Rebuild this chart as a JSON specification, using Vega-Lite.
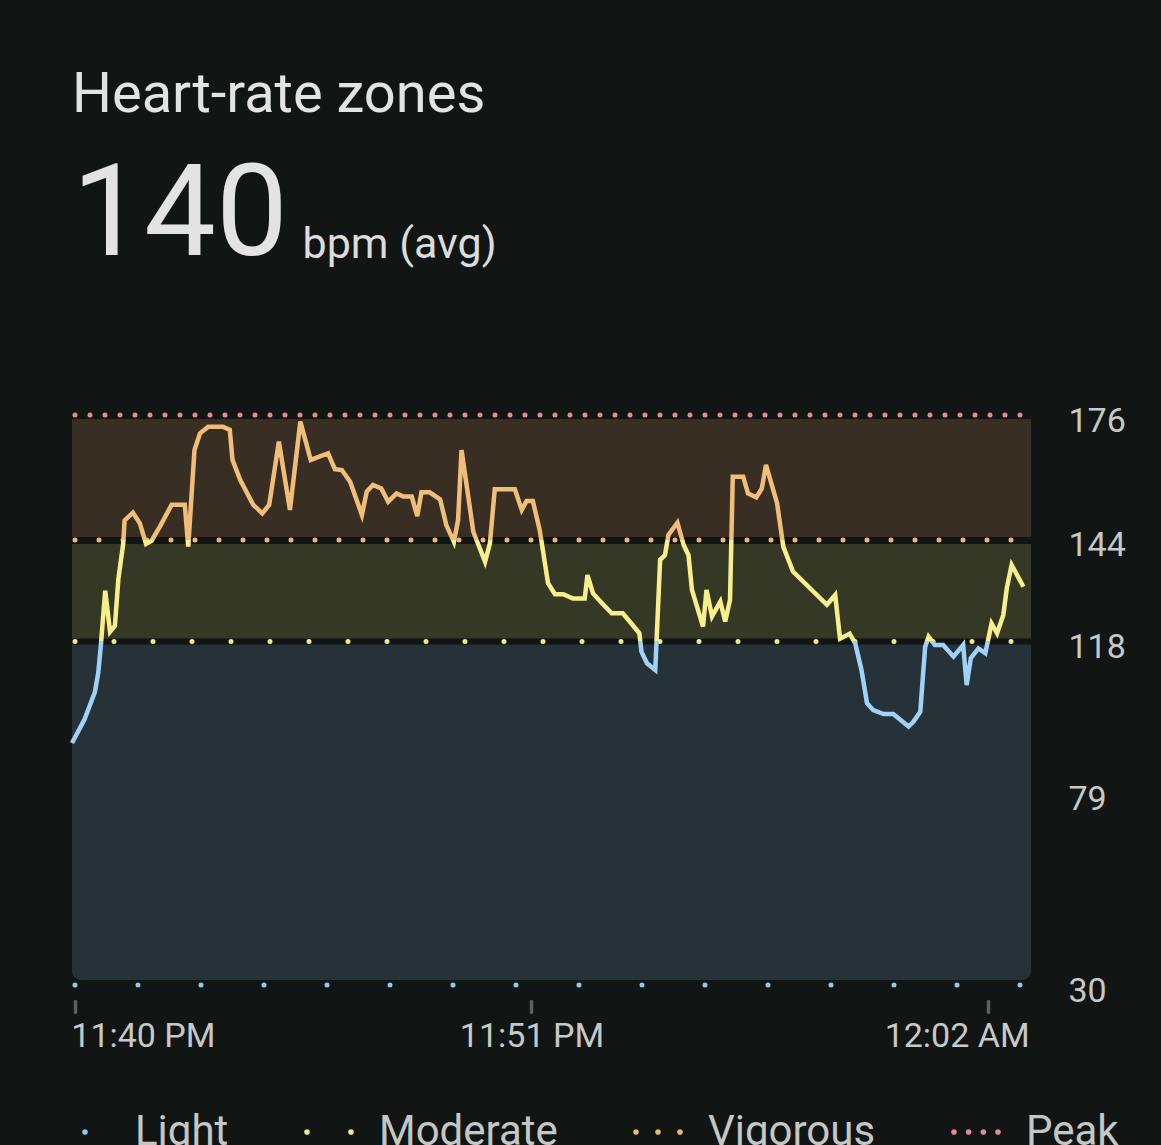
{
  "$schema": "https://vega.github.io/schema/vega-lite/v6.json",
  "width": 959,
  "height": 570,
  "autosize": {"type": "none"},
  "padding": {"left": 72, "top": 415, "right": 130, "bottom": 160},
  "background": "#111514",
  "title": {
    "text": "Heart-rate zones",
    "subtitle": "140",
    "anchor": "start",
    "frame": "group",
    "font": "Roboto",
    "fontSize": 56,
    "fontWeight": "normal",
    "color": "#e3e3e3",
    "subtitleFont": "Roboto",
    "subtitleFontSize": 128,
    "subtitleColor": "#e3e3e3",
    "subtitlePadding": 30,
    "offset": -59
  },
  "datasets": {
    "zones": [
      {"zone": "Light", "bpm": 30, "hi": 118},
      {"zone": "Moderate", "bpm": 118, "hi": 144},
      {"zone": "Vigorous", "bpm": 144, "hi": 176},
      {"zone": "Peak", "bpm": 176, "hi": 176}
    ],
    "hr": [
      {"t": "2024-01-15T23:39:56", "bpm": 92},
      {"t": "2024-01-15T23:40:14", "bpm": 98},
      {"t": "2024-01-15T23:40:29", "bpm": 105},
      {"t": "2024-01-15T23:40:34", "bpm": 110},
      {"t": "2024-01-15T23:40:38", "bpm": 117.6},
      {"t": "2024-01-15T23:40:44", "bpm": 131},
      {"t": "2024-01-15T23:40:51", "bpm": 120.5},
      {"t": "2024-01-15T23:40:58", "bpm": 122},
      {"t": "2024-01-15T23:41:03", "bpm": 134},
      {"t": "2024-01-15T23:41:10", "bpm": 143},
      {"t": "2024-01-15T23:41:12", "bpm": 149},
      {"t": "2024-01-15T23:41:24", "bpm": 151},
      {"t": "2024-01-15T23:41:34", "bpm": 148.3},
      {"t": "2024-01-15T23:41:43", "bpm": 143},
      {"t": "2024-01-15T23:41:51", "bpm": 143.8},
      {"t": "2024-01-15T23:42:03", "bpm": 147.4},
      {"t": "2024-01-15T23:42:20", "bpm": 153},
      {"t": "2024-01-15T23:42:39", "bpm": 153},
      {"t": "2024-01-15T23:42:44", "bpm": 142.3},
      {"t": "2024-01-15T23:42:53", "bpm": 167},
      {"t": "2024-01-15T23:43:01", "bpm": 171.3},
      {"t": "2024-01-15T23:43:13", "bpm": 173},
      {"t": "2024-01-15T23:43:34", "bpm": 173},
      {"t": "2024-01-15T23:43:44", "bpm": 172.2},
      {"t": "2024-01-15T23:43:48", "bpm": 164.5},
      {"t": "2024-01-15T23:43:59", "bpm": 159.4},
      {"t": "2024-01-15T23:44:18", "bpm": 153},
      {"t": "2024-01-15T23:44:31", "bpm": 150.8},
      {"t": "2024-01-15T23:44:41", "bpm": 153},
      {"t": "2024-01-15T23:44:55", "bpm": 169.2},
      {"t": "2024-01-15T23:45:11", "bpm": 151.7},
      {"t": "2024-01-15T23:45:26", "bpm": 174.3},
      {"t": "2024-01-15T23:45:41", "bpm": 164.5},
      {"t": "2024-01-15T23:46:06", "bpm": 166.2},
      {"t": "2024-01-15T23:46:16", "bpm": 162.1},
      {"t": "2024-01-15T23:46:26", "bpm": 161.9},
      {"t": "2024-01-15T23:46:38", "bpm": 158.9},
      {"t": "2024-01-15T23:46:55", "bpm": 150.4},
      {"t": "2024-01-15T23:47:02", "bpm": 156.4},
      {"t": "2024-01-15T23:47:11", "bpm": 158.1},
      {"t": "2024-01-15T23:47:23", "bpm": 157.2},
      {"t": "2024-01-15T23:47:33", "bpm": 153.8},
      {"t": "2024-01-15T23:47:45", "bpm": 155.9},
      {"t": "2024-01-15T23:47:55", "bpm": 155.1},
      {"t": "2024-01-15T23:48:07", "bpm": 155.1},
      {"t": "2024-01-15T23:48:15", "bpm": 150.1},
      {"t": "2024-01-15T23:48:21", "bpm": 156.2},
      {"t": "2024-01-15T23:48:33", "bpm": 156.2},
      {"t": "2024-01-15T23:48:48", "bpm": 154.4},
      {"t": "2024-01-15T23:48:57", "bpm": 147.8},
      {"t": "2024-01-15T23:49:08", "bpm": 143.5},
      {"t": "2024-01-15T23:49:14", "bpm": 149.1},
      {"t": "2024-01-15T23:49:19", "bpm": 167},
      {"t": "2024-01-15T23:49:36", "bpm": 146.1},
      {"t": "2024-01-15T23:49:53", "bpm": 138.4},
      {"t": "2024-01-15T23:50:00", "bpm": 143.1},
      {"t": "2024-01-15T23:50:07", "bpm": 157},
      {"t": "2024-01-15T23:50:36", "bpm": 157},
      {"t": "2024-01-15T23:50:46", "bpm": 151.7},
      {"t": "2024-01-15T23:50:53", "bpm": 154},
      {"t": "2024-01-15T23:51:02", "bpm": 154},
      {"t": "2024-01-15T23:51:12", "bpm": 146.5},
      {"t": "2024-01-15T23:51:24", "bpm": 132.9},
      {"t": "2024-01-15T23:51:34", "bpm": 130.1},
      {"t": "2024-01-15T23:51:46", "bpm": 130.1},
      {"t": "2024-01-15T23:52:00", "bpm": 129},
      {"t": "2024-01-15T23:52:17", "bpm": 129},
      {"t": "2024-01-15T23:52:21", "bpm": 135},
      {"t": "2024-01-15T23:52:29", "bpm": 130.3},
      {"t": "2024-01-15T23:52:42", "bpm": 127.8},
      {"t": "2024-01-15T23:52:56", "bpm": 125.2},
      {"t": "2024-01-15T23:53:12", "bpm": 125.2},
      {"t": "2024-01-15T23:53:22", "bpm": 123.1},
      {"t": "2024-01-15T23:53:36", "bpm": 120.1},
      {"t": "2024-01-15T23:53:39", "bpm": 115.4},
      {"t": "2024-01-15T23:53:47", "bpm": 112.4},
      {"t": "2024-01-15T23:53:59", "bpm": 110.7},
      {"t": "2024-01-15T23:54:06", "bpm": 138.9},
      {"t": "2024-01-15T23:54:13", "bpm": 140.1},
      {"t": "2024-01-15T23:54:18", "bpm": 145.3},
      {"t": "2024-01-15T23:54:31", "bpm": 148.4},
      {"t": "2024-01-15T23:54:40", "bpm": 142.7},
      {"t": "2024-01-15T23:54:47", "bpm": 140.1},
      {"t": "2024-01-15T23:54:52", "bpm": 131.2},
      {"t": "2024-01-15T23:55:08", "bpm": 121.8},
      {"t": "2024-01-15T23:55:13", "bpm": 131.2},
      {"t": "2024-01-15T23:55:21", "bpm": 124.4},
      {"t": "2024-01-15T23:55:33", "bpm": 128.2},
      {"t": "2024-01-15T23:55:40", "bpm": 123.1},
      {"t": "2024-01-15T23:55:47", "bpm": 128.6},
      {"t": "2024-01-15T23:55:51", "bpm": 160.2},
      {"t": "2024-01-15T23:56:06", "bpm": 160.2},
      {"t": "2024-01-15T23:56:13", "bpm": 155.9},
      {"t": "2024-01-15T23:56:25", "bpm": 154.9},
      {"t": "2024-01-15T23:56:33", "bpm": 157.2},
      {"t": "2024-01-15T23:56:39", "bpm": 163.2},
      {"t": "2024-01-15T23:56:55", "bpm": 153.4},
      {"t": "2024-01-15T23:57:04", "bpm": 142.3},
      {"t": "2024-01-15T23:57:18", "bpm": 135.9},
      {"t": "2024-01-15T23:58:07", "bpm": 127.4},
      {"t": "2024-01-15T23:58:19", "bpm": 129.9},
      {"t": "2024-01-15T23:58:26", "bpm": 118.7},
      {"t": "2024-01-15T23:58:40", "bpm": 120},
      {"t": "2024-01-15T23:58:48", "bpm": 117.5},
      {"t": "2024-01-15T23:58:57", "bpm": 110.7},
      {"t": "2024-01-15T23:59:05", "bpm": 102.2},
      {"t": "2024-01-15T23:59:14", "bpm": 100.4},
      {"t": "2024-01-15T23:59:29", "bpm": 99.4},
      {"t": "2024-01-15T23:59:43", "bpm": 99.4},
      {"t": "2024-01-16T00:00:05", "bpm": 96.2},
      {"t": "2024-01-16T00:00:12", "bpm": 97.4},
      {"t": "2024-01-16T00:00:22", "bpm": 100},
      {"t": "2024-01-16T00:00:29", "bpm": 116.6},
      {"t": "2024-01-16T00:00:34", "bpm": 119.2},
      {"t": "2024-01-16T00:00:43", "bpm": 117.1},
      {"t": "2024-01-16T00:00:55", "bpm": 117.1},
      {"t": "2024-01-16T00:01:10", "bpm": 114.1},
      {"t": "2024-01-16T00:01:24", "bpm": 117.1},
      {"t": "2024-01-16T00:01:29", "bpm": 106.8},
      {"t": "2024-01-16T00:01:35", "bpm": 113.7},
      {"t": "2024-01-16T00:01:46", "bpm": 116.2},
      {"t": "2024-01-16T00:01:56", "bpm": 115},
      {"t": "2024-01-16T00:02:05", "bpm": 122.6},
      {"t": "2024-01-16T00:02:13", "bpm": 120.1},
      {"t": "2024-01-16T00:02:22", "bpm": 124.8},
      {"t": "2024-01-16T00:02:27", "bpm": 131.6},
      {"t": "2024-01-16T00:02:34", "bpm": 137.6},
      {"t": "2024-01-16T00:02:51", "bpm": 132}
    ]
  },
  "encoding": {
    "y": {
      "field": "bpm",
      "type": "quantitative",
      "scale": {"domain": [30, 176], "nice": false, "zero": false},
      "axis": {
        "orient": "right",
        "values": [30, 79, 118, 144, 176],
        "ticks": false,
        "domain": false,
        "grid": false,
        "labelFlush": false,
        "labelOverlap": false,
        "labelBound": false,
        "labelFont": "Roboto",
        "labelFontSize": 34,
        "labelColor": "#c6c9c7",
        "labelPadding": 37,
        "labelOffset": 6,
        "labelAlign": "left",
        "labelBaseline": "middle",
        "title": "bpm (avg)",
        "titleAngle": 0,
        "titleX": -729,
        "titleY": -158,
        "titleAlign": "left",
        "titleBaseline": "alphabetic",
        "titleFont": "Roboto",
        "titleFontSize": 43,
        "titleFontWeight": "normal",
        "titleColor": "#dcdcdc"
      }
    }
  },
  "layer": [
    {
      "data": {"name": "zones"},
      "transform": [{"filter": "datum.zone == 'Light'"}],
      "mark": {"type": "rect", "yOffset": -5, "cornerRadiusBottomLeft": 9, "cornerRadiusBottomRight": 9, "color": "#263138"},
      "encoding": {"x": {"value": 0}, "x2": {"value": "width"}, "y2": {"field": "hi"}}
    },
    {
      "data": {"name": "zones"},
      "transform": [{"filter": "datum.zone == 'Moderate'"}],
      "mark": {"type": "rect", "y2Offset": 4, "color": "#363826"},
      "encoding": {"x": {"value": 0}, "x2": {"value": "width"}, "y2": {"field": "hi"}}
    },
    {
      "data": {"name": "zones"},
      "transform": [{"filter": "datum.zone == 'Vigorous'"}],
      "mark": {"type": "rect", "y2Offset": 4, "color": "#382e24"},
      "encoding": {"x": {"value": 0}, "x2": {"value": "width"}, "y2": {"field": "hi"}}
    },
    {
      "data": {"name": "zones"},
      "transform": [{"filter": "datum.zone == 'Moderate' || datum.zone == 'Vigorous'"}],
      "mark": {"type": "rule", "strokeWidth": 6, "color": "#111514"},
      "encoding": {}
    },
    {
      "data": {"name": "zones"},
      "transform": [{"filter": "datum.zone == 'Light'"}],
      "mark": {"type": "rule", "strokeWidth": 5, "strokeCap": "round", "strokeDash": [0, 63], "strokeDashOffset": -11, "color": "#8ecbf2"},
      "encoding": {}
    },
    {
      "data": {"name": "zones"},
      "transform": [{"filter": "datum.zone == 'Moderate'"}],
      "mark": {"type": "rule", "strokeWidth": 5, "strokeCap": "round", "strokeDash": [0, 39], "strokeDashOffset": -20, "color": "#f3e98b"},
      "encoding": {}
    },
    {
      "data": {"name": "zones"},
      "transform": [{"filter": "datum.zone == 'Vigorous'"}],
      "mark": {"type": "rule", "strokeWidth": 5, "strokeCap": "round", "strokeDash": [0, 24], "strokeDashOffset": -20, "color": "#efb776"},
      "encoding": {}
    },
    {
      "data": {"name": "zones"},
      "transform": [{"filter": "datum.zone == 'Peak'"}],
      "mark": {"type": "rule", "strokeWidth": 5, "strokeCap": "round", "strokeDash": [0, 15], "strokeDashOffset": -11, "color": "#e98a8d"},
      "encoding": {}
    },
    {
      "data": {"name": "hr"},
      "mark": {
        "type": "line",
        "strokeWidth": 4.5,
        "stroke": {
          "gradient": "linear",
          "x1": 0, "y1": 0, "x2": 0, "y2": 1,
          "stops": [
            {"offset": 0, "color": "#f0be78"},
            {"offset": 0.3682, "color": "#f0be78"},
            {"offset": 0.3682, "color": "#f7ee8c"},
            {"offset": 0.6841, "color": "#f7ee8c"},
            {"offset": 0.6841, "color": "#9fd2f6"},
            {"offset": 1, "color": "#9fd2f6"}
          ]
        }
      },
      "encoding": {
        "x": {
          "field": "t",
          "type": "temporal",
          "scale": {
            "domain": [
              {"year": 2024, "month": 1, "date": 15, "hours": 23, "minutes": 39, "seconds": 56},
              {"year": 2024, "month": 1, "date": 16, "hours": 0, "minutes": 3, "seconds": 2}
            ]
          },
          "axis": {
            "title": null,
            "values": [
              {"year": 2024, "month": 1, "date": 15, "hours": 23, "minutes": 40},
              {"year": 2024, "month": 1, "date": 15, "hours": 23, "minutes": 51},
              {"year": 2024, "month": 1, "date": 16, "hours": 0, "minutes": 2}
            ],
            "format": "%-I:%M %p",
            "domain": false,
            "grid": false,
            "offset": 16,
            "tickSize": 11,
            "tickWidth": 3.5,
            "tickCap": "round",
            "tickColor": "#5c605f",
            "labelFlush": false,
            "labelOverlap": false,
            "labelBound": false,
            "labelFont": "Roboto",
            "labelFontSize": 34,
            "labelColor": "#c6c9c7",
            "labelBaseline": "top",
            "labelPadding": 7,
            "labelAlign": {
              "condition": [
                {"test": "minutes(datum.value) == 40", "value": "left"},
                {"test": "hours(datum.value) == 0", "value": "right"}
              ],
              "value": "center"
            },
            "labelOffset": {
              "condition": [
                {"test": "minutes(datum.value) == 40", "value": -4},
                {"test": "hours(datum.value) == 0", "value": 41}
              ],
              "value": 0
            }
          }
        }
      }
    },
    {
      "data": {"name": "zones"},
      "mark": {"type": "point", "filled": true, "size": 0, "opacity": 1},
      "encoding": {
        "color": {
          "field": "zone",
          "type": "nominal",
          "scale": {"domain": ["Light", "Moderate", "Vigorous", "Peak"], "range": ["#8ecbf2", "#f3e98b", "#efb776", "#e98a8d"]},
          "legend": {
            "orient": "none",
            "legendX": -9,
            "legendY": 695,
            "direction": "horizontal",
            "title": null,
            "symbolSize": 1936,
            "symbolOpacity": 1,
            "symbolStrokeWidth": 0,
            "labelOffset": 28,
            "columnPadding": 75,
            "labelFont": "Roboto",
            "labelFontSize": 42,
            "labelColor": "#c4c7c5",
            "labelLimit": 400
          }
        },
        "shape": {
          "field": "zone",
          "type": "nominal",
          "scale": {
            "domain": ["Light", "Moderate", "Vigorous", "Peak"],
            "range": [
              "M -0.13 0 A 0.13 0.13 0 1 0 0.13 0 A 0.13 0.13 0 1 0 -0.13 0 Z",
              "M -1.13 0 A 0.13 0.13 0 1 0 -0.87 0 A 0.13 0.13 0 1 0 -1.13 0 Z M 0.87 0 A 0.13 0.13 0 1 0 1.13 0 A 0.13 0.13 0 1 0 0.87 0 Z",
              "M -1.13 0 A 0.13 0.13 0 1 0 -0.87 0 A 0.13 0.13 0 1 0 -1.13 0 Z M -0.13 0 A 0.13 0.13 0 1 0 0.13 0 A 0.13 0.13 0 1 0 -0.13 0 Z M 0.87 0 A 0.13 0.13 0 1 0 1.13 0 A 0.13 0.13 0 1 0 0.87 0 Z",
              "M -1.13 0 A 0.13 0.13 0 1 0 -0.87 0 A 0.13 0.13 0 1 0 -1.13 0 Z M -0.463 0 A 0.13 0.13 0 1 0 -0.203 0 A 0.13 0.13 0 1 0 -0.463 0 Z M 0.203 0 A 0.13 0.13 0 1 0 0.463 0 A 0.13 0.13 0 1 0 0.203 0 Z M 0.87 0 A 0.13 0.13 0 1 0 1.13 0 A 0.13 0.13 0 1 0 0.87 0 Z"
            ]
          }
        }
      }
    }
  ],
  "config": {
    "view": {"stroke": null},
    "font": "Roboto"
  }
}
